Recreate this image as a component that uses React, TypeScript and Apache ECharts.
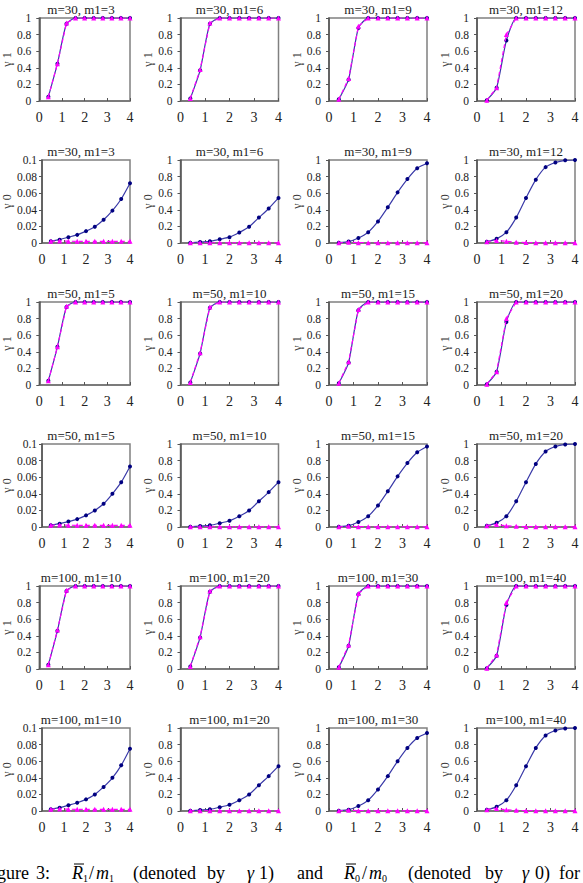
import React, { useEffect, useRef } from "react";
import * as echarts from "echarts";

// Shared x positions of the sampled points
const xValues = [0.4, 0.8, 1.2, 1.6, 2.0, 2.4, 2.8, 3.2, 3.6, 4.0];
const xTicks = [0, 1, 2, 3, 4];

// Panel titles, row by row
const panelTitles = [
  ["m=30, m1=3", "m=30, m1=6", "m=30, m1=9", "m=30, m1=12"],
  ["m=30, m1=3", "m=30, m1=6", "m=30, m1=9", "m=30, m1=12"],
  ["m=50, m1=5", "m=50, m1=10", "m=50, m1=15", "m=50, m1=20"],
  ["m=50, m1=5", "m=50, m1=10", "m=50, m1=15", "m=50, m1=20"],
  ["m=100, m1=10", "m=100, m1=20", "m=100, m1=30", "m=100, m1=40"],
  ["m=100, m1=10", "m=100, m1=20", "m=100, m1=30", "m=100, m1=40"],
];
const rowNames = ["γ 1", "γ 0", "γ 1", "γ 0", "γ 1", "γ 0"];

// γ1 rows: solid (A) and dashed (B) curves
const m30_g1_A = [
  [0.05, 0.45, 0.93, 1, 1, 1, 1, 1, 1, 1],
  [0.03, 0.37, 0.93, 1, 1, 1, 1, 1, 1, 1],
  [0.02, 0.26, 0.88, 1, 1, 1, 1, 1, 1, 1],
  [0.01, 0.16, 0.73, 1, 1, 1, 1, 1, 1, 1],
];
const m30_g1_B = [
  [0.05, 0.45, 0.94, 1, 1, 1, 1, 1, 1, 1],
  [0.03, 0.38, 0.94, 1, 1, 1, 1, 1, 1, 1],
  [0.02, 0.27, 0.9, 1, 1, 1, 1, 1, 1, 1],
  [0.01, 0.16, 0.8, 1, 1, 1, 1, 1, 1, 1],
];
const m50_g1_A = [
  [0.05, 0.46, 0.94, 1, 1, 1, 1, 1, 1, 1],
  [0.03, 0.38, 0.93, 1, 1, 1, 1, 1, 1, 1],
  [0.02, 0.27, 0.9, 1, 1, 1, 1, 1, 1, 1],
  [0.01, 0.16, 0.76, 1, 1, 1, 1, 1, 1, 1],
];
const m50_g1_B = [
  [0.05, 0.46, 0.95, 1, 1, 1, 1, 1, 1, 1],
  [0.03, 0.39, 0.94, 1, 1, 1, 1, 1, 1, 1],
  [0.02, 0.28, 0.91, 1, 1, 1, 1, 1, 1, 1],
  [0.01, 0.16, 0.8, 1, 1, 1, 1, 1, 1, 1],
];
const m100_g1_A = [
  [0.05, 0.46, 0.94, 1, 1, 1, 1, 1, 1, 1],
  [0.03, 0.38, 0.93, 1, 1, 1, 1, 1, 1, 1],
  [0.02, 0.28, 0.9, 1, 1, 1, 1, 1, 1, 1],
  [0.01, 0.16, 0.77, 1, 1, 1, 1, 1, 1, 1],
];
const m100_g1_B = [
  [0.05, 0.47, 0.95, 1, 1, 1, 1, 1, 1, 1],
  [0.03, 0.39, 0.94, 1, 1, 1, 1, 1, 1, 1],
  [0.02, 0.29, 0.91, 1, 1, 1, 1, 1, 1, 1],
  [0.01, 0.17, 0.8, 1, 1, 1, 1, 1, 1, 1],
];

// γ0 rows: solid (A) and dashed (B) curves
const m30_g0_A = [
  [0.002, 0.004, 0.007, 0.0098, 0.0143, 0.0196, 0.028, 0.039, 0.053, 0.072],
  [0.003, 0.012, 0.02, 0.045, 0.07, 0.127, 0.196, 0.306, 0.416, 0.543],
  [0.004, 0.017, 0.06, 0.13, 0.26, 0.43, 0.61, 0.77, 0.9, 0.96],
  [0.016, 0.05, 0.13, 0.306, 0.543, 0.763, 0.914, 0.97, 0.996, 1.0],
];
const m30_g0_B = [
  [0.0022, 0.0025, 0.0022, 0.002, 0.002, 0.002, 0.002, 0.002, 0.002, 0.002],
  [0.002, 0.003, 0.003, 0.002, 0.002, 0.002, 0.002, 0.002, 0.002, 0.002],
  [0.002, 0.01, 0.004, 0.003, 0.002, 0.002, 0.002, 0.002, 0.002, 0.002],
  [0.016, 0.03, 0.02, 0.01, 0.005, 0.003, 0.002, 0.002, 0.002, 0.002],
];
const m50_g0_A = [
  [0.002, 0.004, 0.0065, 0.0095, 0.014, 0.02, 0.028, 0.04, 0.054, 0.073],
  [0.003, 0.012, 0.02, 0.045, 0.075, 0.13, 0.2, 0.31, 0.42, 0.54],
  [0.004, 0.016, 0.06, 0.13, 0.26, 0.43, 0.61, 0.77, 0.9, 0.97],
  [0.016, 0.05, 0.13, 0.31, 0.54, 0.76, 0.91, 0.97, 0.995, 1.0],
];
const m50_g0_B = [
  [0.002, 0.0025, 0.0022, 0.002, 0.002, 0.002, 0.002, 0.002, 0.002, 0.002],
  [0.002, 0.003, 0.003, 0.002, 0.002, 0.002, 0.002, 0.002, 0.002, 0.002],
  [0.002, 0.01, 0.004, 0.003, 0.002, 0.002, 0.002, 0.002, 0.002, 0.002],
  [0.016, 0.03, 0.015, 0.008, 0.004, 0.003, 0.002, 0.002, 0.002, 0.002],
];
const m100_g0_A = [
  [0.002, 0.004, 0.007, 0.01, 0.014, 0.02, 0.029, 0.04, 0.055, 0.075],
  [0.003, 0.012, 0.02, 0.045, 0.075, 0.13, 0.2, 0.31, 0.42, 0.54],
  [0.004, 0.016, 0.06, 0.13, 0.26, 0.42, 0.6, 0.76, 0.88, 0.94],
  [0.016, 0.05, 0.13, 0.31, 0.54, 0.76, 0.91, 0.97, 0.995, 1.0],
];
const m100_g0_B = [
  [0.002, 0.0025, 0.0022, 0.002, 0.002, 0.002, 0.002, 0.002, 0.002, 0.002],
  [0.002, 0.003, 0.003, 0.002, 0.002, 0.002, 0.002, 0.002, 0.002, 0.002],
  [0.002, 0.01, 0.004, 0.003, 0.002, 0.002, 0.002, 0.002, 0.002, 0.002],
  [0.016, 0.03, 0.015, 0.008, 0.004, 0.003, 0.002, 0.002, 0.002, 0.002],
];

const rowsA = [m30_g1_A, m30_g0_A, m50_g1_A, m50_g0_A, m100_g1_A, m100_g0_A];
const rowsB = [m30_g1_B, m30_g0_B, m50_g1_B, m50_g0_B, m100_g1_B, m100_g0_B];

// y-axis ranges: the first γ0 column uses a narrow 0–0.1 scale
const yMaxSmall = 0.1;
const yStepSmall = 0.02;
const yMaxFull = 1;
const yStepFull = 0.2;

const SERIF = "Liberation Serif";

export default function App() {
  const ref = useRef<HTMLDivElement>(null);

  useEffect(() => {
    document.body.style.margin = "0";
    const chart = echarts.init(ref.current!, null, { renderer: "svg" });

    const colLeft = [32, 180.5, 329, 477];
    const plotW = 98;
    const rowTop = [18, 160, 302, 444, 586, 728];
    const plotH = 83;

    const grid: any[] = [];
    const xAxis: any[] = [];
    const yAxis: any[] = [];
    const series: any[] = [];
    const title: any[] = [];

    rowTop.forEach((top, r) => {
      colLeft.forEach((left, c) => {
        const idx = grid.length;
        grid.push({
          left,
          top,
          width: plotW,
          height: plotH,
          show: true,
          borderColor: "#808080",
          borderWidth: 1.5,
          backgroundColor: "#fff",
        });
        xAxis.push({
          type: "value",
          gridIndex: idx,
          min: 0,
          max: 4,
          interval: 1,
          axisLine: { show: true, lineStyle: { color: "#707070", width: 1.5 } },
          axisTick: { show: true, inside: true, length: 3, lineStyle: { color: "#555" } },
          axisLabel: {
            margin: 9,
            fontFamily: SERIF,
            fontSize: 14,
            color: "#222",
            formatter: (v: number) => (xTicks.includes(v) ? String(v) : ""),
          },
          splitLine: { show: false },
        });
        const small = r % 2 === 1 && c === 0;
        const yMax = small ? yMaxSmall : yMaxFull;
        const yStep = small ? yStepSmall : yStepFull;
        yAxis.push({
          type: "value",
          gridIndex: idx,
          min: 0,
          max: yMax,
          interval: yStep,
          name: rowNames[r],
          nameLocation: "middle",
          nameRotate: 90,
          nameGap: small ? 24 : 22,
          nameTextStyle: { fontFamily: SERIF, fontSize: 12, color: "#333" },
          axisLine: { show: true, lineStyle: { color: "#505050", width: 1.5 } },
          axisTick: { show: true, inside: false, length: 3, lineStyle: { color: "#555" } },
          axisLabel: {
            margin: small ? 5 : 8,
            fontFamily: SERIF,
            fontSize: 11.5,
            color: "#222",
            formatter: (v: number) => String(+v.toFixed(2)),
          },
          splitLine: { show: false },
        });
        title.push({
          text: panelTitles[r][c],
          left: left + plotW / 2,
          top: top - 15,
          padding: 0,
          textAlign: "center",
          textStyle: { fontFamily: SERIF, fontSize: 13, fontWeight: "normal", color: "#222" },
        });
        series.push({
          type: "line",
          xAxisIndex: idx,
          yAxisIndex: idx,
          data: xValues.map((x, i) => [x, rowsA[r][c][i]]),
          symbol: "circle",
          symbolSize: 4,
          itemStyle: { color: "#000080" },
          lineStyle: { color: "#3a3aa8", width: 1.2 },
          smooth: 0.2,
          z: 2,
        });
        series.push({
          type: "line",
          xAxisIndex: idx,
          yAxisIndex: idx,
          data: xValues.map((x, i) => [x, rowsB[r][c][i]]),
          symbol: "triangle",
          symbolSize: 5,
          itemStyle: { color: "#ff00ff" },
          lineStyle: { color: "#ff00ff", width: 1.2, type: [4, 3] },
          z: 3,
        });
      });
    });

    // Figure caption along the bottom edge
    const capY = 873;
    const capFont = `18px "${SERIF}"`;
    const word = (text: string, x: number, italic = false, align = "left") => ({
      type: "text",
      x,
      y: capY,
      style: {
        text,
        font: italic ? `italic ${capFont}` : capFont,
        fill: "#000",
        align,
        verticalAlign: "middle",
      },
    });
    const sub = (text: string, x: number) => ({
      type: "text",
      x,
      y: capY + 5,
      style: { text, font: `10px "${SERIF}"`, fill: "#000", verticalAlign: "middle" },
    });
    const bar = (x: number) => ({
      type: "line",
      shape: { x1: x + 2, y1: capY - 9, x2: x + 12, y2: capY - 9 },
      style: { stroke: "#000", lineWidth: 1 },
    });

    const graphic = [
      word("Figure", 29, false, "right"),
      word("3:", 36),
      bar(72),
      word("R", 72, true),
      sub("1", 83),
      word("/", 89),
      word("m", 96, true),
      sub("1", 109),
      word("(denoted", 133),
      word("by", 207),
      word("γ", 247, true),
      word("1)", 259),
      word("and", 297),
      bar(344),
      word("R", 344, true),
      sub("0", 355),
      word("/", 362),
      word("m", 369, true),
      sub("0", 382),
      word("(denoted", 408),
      word("by", 485),
      word("γ", 522, true),
      word("0)", 535),
      word("for", 559),
    ];

    chart.setOption({
      animation: false,
      backgroundColor: "#fff",
      textStyle: { fontFamily: SERIF },
      title,
      grid,
      xAxis,
      yAxis,
      series,
      graphic,
    });

    return () => chart.dispose();
  }, []);

  return <div ref={ref} style={{ width: 583, height: 883 }} />;
}
